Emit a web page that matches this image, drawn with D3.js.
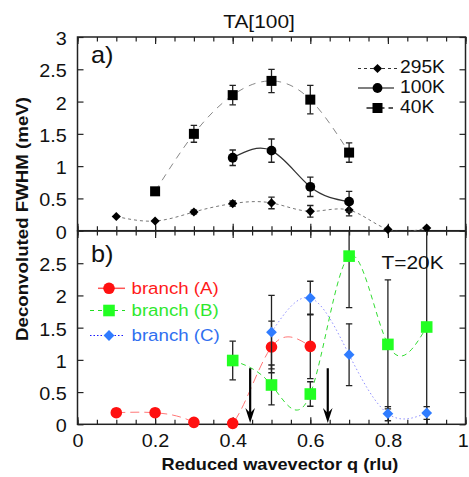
<!DOCTYPE html>
<html><head><meta charset="utf-8">
<script src="https://cdn.jsdelivr.net/npm/d3@7"></script>
<style>
html,body{margin:0;padding:0;background:#fff;}
svg{display:block;font-family:"Liberation Sans",Arial,Helvetica,sans-serif;}
</style></head>
<body><svg id="c" width="469" height="477"></svg>
<script>
// ---- data ----
const q295 = [0.1,0.2,0.3,0.4,0.5,0.6,0.7,0.8,0.9];
const fwhm295 = [0.22,0.15,0.29,0.42,0.43,0.30,0.32,0.02,0.04];
const err295 = [0,0,0.03,0.04,0.09,0.09,0.09,0,0];
const q100 = [0.4,0.5,0.6,0.7];
const fwhm100 = [1.13,1.24,0.68,0.45];
const err100 = [0.12,0.18,0.15,0.16];
const q40 = [0.2,0.3,0.4,0.5,0.6,0.7];
const fwhm40 = [0.61,1.50,2.10,2.32,2.03,1.21];
const err40 = [0.04,0.13,0.15,0.18,0.22,0.15];
const qA = [0.1,0.2,0.3,0.4,0.5,0.6];
const fwhmA = [0.18,0.18,0.03,0.015,1.20,1.21];
const errA = [0,0,0,0,0.40,0.50];
const qB = [0.4,0.5,0.6,0.7,0.8,0.9];
const fwhmB = [0.99,0.61,0.47,2.61,1.24,1.51];
const errB = [0.30,0.31,0.19,0.80,1.00,1.60];
const qC = [0.5,0.6,0.7,0.8,0.9];
const fwhmC = [1.43,1.96,1.08,0.165,0.175];
const errC = [0.57,0.26,0.48,0.11,0.10];
const arrowQ = [0.445,0.645];
const arrowTop = 0.87, arrowTip = 0.02;
const xTickLabels = [0,0.2,0.4,0.6,0.8,1];
const yTicksTop = [0,0.5,1,1.5,2,2.5,3];
const yTicksBottom = [0,0.5,1,1.5,2,2.5];
const legendTop = ["295K","100K","40K"];
const legendBottom = ["branch (A)","branch (B)","branch (C)"];

// ---- layout ----
const svg = d3.select("#c");
const L = 77.5, R = 465.5;
const x = d3.scaleLinear().domain([0,1]).range([L,R]);
const yT = d3.scaleLinear().domain([0,3]).range([230.7,37]);
const yB = d3.scaleLinear().domain([0,3]).range([424.3,231]);
const SX = "scale(1.1,1)";

function txt(g, px, py, s, size, opts={}) {
  return g.append("text").attr("transform", `translate(${px},${py}) ${SX}`)
    .attr("font-size", size).attr("fill", opts.fill || "#111")
    .attr("font-weight", opts.bold ? "bold" : "normal")
    .attr("text-anchor", opts.anchor || "start").text(s);
}
const diamond = h => `M0,${-h}L${h},0L0,${h}L${-h},0Z`;
const square = h => `M${-h},${-h}H${h}V${h}H${-h}Z`;

// clip paths
const defs = svg.append("defs");
defs.append("clipPath").attr("id","clipT").append("rect")
  .attr("x",L).attr("y",yT(3)).attr("width",R-L).attr("height",yT(0)-yT(3));
defs.append("clipPath").attr("id","clipB").append("rect")
  .attr("x",L).attr("y",yB(3)).attr("width",R-L).attr("height",yB(0)-yB(3));

function axes(y, yTicks, showX) {
  const y0 = y.range()[0], y1 = y.range()[1];
  const g = svg.append("g").attr("stroke-width",1.2);
  const minor = d3.range(0,1.0001,0.05);
  const major = [0,0.2,0.4,0.6,0.8,1];
  g.append("g").attr("transform",`translate(0,${y0})`)
    .call(d3.axisBottom(x).tickValues(minor).tickSize(-4.5).tickFormat(""));
  g.append("g").attr("transform",`translate(0,${y1})`)
    .call(d3.axisTop(x).tickValues(minor).tickSize(-4.5).tickFormat(""));
  g.append("g").attr("transform",`translate(0,${y1})`)
    .call(d3.axisTop(x).tickValues(major).tickSize(-7).tickFormat(""));
  const xb = g.append("g").attr("transform",`translate(0,${y0})`)
    .call(d3.axisBottom(x).tickValues(showX ? xTickLabels : major).tickSize(-7).tickPadding(9.5)
      .tickFormat(showX ? d3.format("") : ""));
  const yl = g.append("g").attr("transform",`translate(${L},0)`)
    .call(d3.axisLeft(y).tickValues(yTicks).tickSize(-6).tickPadding(9.8).tickFormat(d3.format("")));
  g.append("g").attr("transform",`translate(${R},0)`)
    .call(d3.axisRight(y).tickValues(yTicks).tickSize(-6).tickFormat(""));
  g.selectAll(".domain").remove();
  g.selectAll(".tick line").attr("stroke","#222");
  g.selectAll(".tick text").attr("transform",SX).attr("font-size",18)
    .attr("fill","#111").attr("font-family","'Liberation Sans',Arial,sans-serif");
  yl.selectAll(".tick text").attr("dy","0.42em");
  // keep the last x label inside the picture, as in the reference
  xb.selectAll(".tick text").filter(d=>d===1).attr("x",-2.5);
  svg.append("rect").attr("x",L).attr("y",y1).attr("width",R-L).attr("height",y0-y1)
    .attr("fill","none").attr("stroke","#222").attr("stroke-width",1.5);
}

function series(y, clip, qs, vs, es, style) {
  const pts = qs.map((d,i)=>({q:d,v:vs[i],e:es[i]}));
  const g = svg.append("g");
  const cg = g.append("g").attr("clip-path",`url(#${clip})`);
  const line = d3.line().x(d=>x(d.q)).y(d=>y(d.v)).curve(d3.curveNatural);
  cg.append("path").datum(pts).attr("d",line).attr("fill","none")
    .attr("stroke",style.line).attr("stroke-width",style.lw||1)
    .attr("stroke-dasharray",style.dash||null);
  const eb = cg.selectAll("g.eb").data(pts.filter(d=>d.e>0)).join("g");
  eb.append("line").attr("x1",d=>x(d.q)).attr("x2",d=>x(d.q))
    .attr("y1",d=>y(d.v-d.e)).attr("y2",d=>y(d.v+d.e))
    .attr("stroke","#222").attr("stroke-width",1.3);
  [-1,1].forEach(s=>{
    eb.append("line").attr("x1",d=>x(d.q)-3.2).attr("x2",d=>x(d.q)+3.2)
      .attr("y1",d=>y(d.v+s*d.e)).attr("y2",d=>y(d.v+s*d.e))
      .attr("stroke","#222").attr("stroke-width",1.3);
  });
  g.selectAll("path.m").data(pts).join("path").attr("class","m")
    .attr("transform",d=>`translate(${x(d.q)},${y(d.v)})`)
    .attr("d",style.shape).attr("fill",style.fill);
}

axes(yT, yTicksTop, false);
axes(yB, yTicksBottom, true);

// panel a
series(yT,"clipT",q295,fwhm295,err295,{line:"#777",dash:"3,3",shape:diamond(4.6),fill:"#000"});
series(yT,"clipT",q100,fwhm100,err100,{line:"#333",lw:1.2,shape:"M4.9,0A4.9,4.9 0 1 1 -4.9,0A4.9,4.9 0 1 1 4.9,0Z",fill:"#000"});
series(yT,"clipT",q40,fwhm40,err40,{line:"#888",dash:"7,6",shape:square(5),fill:"#000"});

// panel b
series(yB,"clipB",qA,fwhmA,errA,{line:"#ff7777",dash:"9,5",shape:"M5.8,0A5.8,5.8 0 1 1 -5.8,0A5.8,5.8 0 1 1 5.8,0Z",fill:"#ff1010"});
series(yB,"clipB",qB,fwhmB,errB,{line:"#33dd33",dash:"5,4",shape:square(5.8),fill:"#22ff22"});
series(yB,"clipB",qC,fwhmC,errC,{line:"#8f8fff",dash:"1.5,2.5",shape:diamond(5.4),fill:"#2f7cff"});

// arrows
const ag = svg.append("g");
arrowQ.forEach(a=>{
  const ax = x(a), t = yB(arrowTip), top = yB(arrowTop);
  ag.append("line").attr("x1",ax).attr("x2",ax).attr("y1",top).attr("y2",t-8)
    .attr("stroke","#000").attr("stroke-width",2.2);
  ag.append("path").attr("d",`M${ax},${t}L${ax+4.8},${t-15}L${ax},${t-10}L${ax-4.8},${t-15}Z`)
    .attr("fill","#000");
});

// texts
txt(svg,259,28,"TA[100]",19,{anchor:"middle"});
txt(svg,91,63,"a)",23);
txt(svg,91,261.5,"b)",23);
txt(svg,381.5,269,"T=20K",19);
txt(svg,280,470,"Reduced wavevector q (rlu)",16.5,{anchor:"middle",bold:true});
svg.append("text").attr("transform",`translate(27.5,219) rotate(-90) ${SX}`)
  .attr("font-size",17).attr("font-weight","bold").attr("text-anchor","middle")
  .attr("fill","#111").text("Deconvoluted FWHM (meV)");

// legend a
const lgA = svg.append("g");
const lgAy = [68.5, 88, 108];
const lgAtx = [72.5, 92.7, 113.3];
lgA.append("line").attr("x1",358).attr("x2",397).attr("y1",lgAy[0]).attr("y2",lgAy[0])
  .attr("stroke","#333").attr("stroke-dasharray","3,3").attr("stroke-width",1);
lgA.append("path").attr("transform",`translate(377.5,${lgAy[0]})`).attr("d",diamond(4.6)).attr("fill","#000");
lgA.append("line").attr("x1",358).attr("x2",394).attr("y1",lgAy[1]).attr("y2",lgAy[1])
  .attr("stroke","#555").attr("stroke-width",1.6);
lgA.append("circle").attr("cx",377.5).attr("cy",lgAy[1]).attr("r",4.9).attr("fill","#000");
lgA.append("line").attr("x1",366.5).attr("x2",393).attr("y1",lgAy[2]).attr("y2",lgAy[2])
  .attr("stroke","#222").attr("stroke-dasharray","7,4").attr("stroke-width",1.3);
lgA.append("path").attr("transform",`translate(377.5,${lgAy[2]})`).attr("d",square(5)).attr("fill","#000");
legendTop.forEach((s,i)=>txt(lgA,400,lgAtx[i],s,17.5));

// legend b
const lgB = svg.append("g");
const lgBy = [288.3, 310.5, 335.5];
const lgBtx = [294, 316, 341];
const lgBcol = ["#ff1a1a","#2ee82e","#2f6ff0"];
lgB.append("line").attr("x1",98).attr("x2",125).attr("y1",lgBy[0]).attr("y2",lgBy[0])
  .attr("stroke","#ff5555").attr("stroke-width",1.5);
lgB.append("circle").attr("cx",109).attr("cy",lgBy[0]).attr("r",5.8).attr("fill","#ff1010");
lgB.append("line").attr("x1",90).attr("x2",125).attr("y1",lgBy[1]).attr("y2",lgBy[1])
  .attr("stroke","#22dd22").attr("stroke-dasharray","4,4").attr("stroke-width",1.2);
lgB.append("path").attr("transform",`translate(109,${lgBy[1]})`).attr("d",square(5.8)).attr("fill","#22ff22");
lgB.append("line").attr("x1",90).attr("x2",125).attr("y1",lgBy[2]).attr("y2",lgBy[2])
  .attr("stroke","#1a1aff").attr("stroke-dasharray","1.5,2").attr("stroke-width",1.2);
lgB.append("path").attr("transform",`translate(109,${lgBy[2]})`).attr("d",diamond(5.4)).attr("fill","#2f7cff");
legendBottom.forEach((s,i)=>txt(lgB,131.5,lgBtx[i],s,17,{fill:lgBcol[i]}));
</script></body></html>
